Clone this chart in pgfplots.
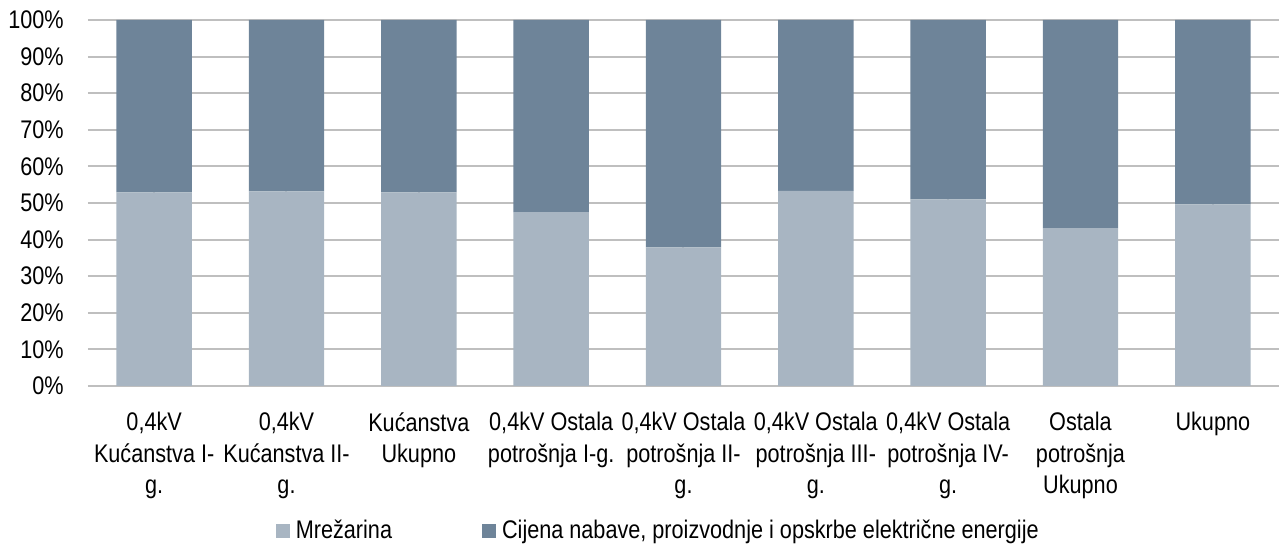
\documentclass[border=0pt]{standalone}
\usepackage{pgfplots}
\pgfplotsset{compat=1.18}
\usepackage{fontspec}
\setmainfont{Liberation Sans}[FakeStretch=0.85]
\definecolor{light}{RGB}{168,181,194}
\definecolor{dark}{RGB}{110,132,153}
\definecolor{grid}{RGB}{134,134,134}
\newcommand{\chartfont}{\fontsize{19.1pt}{23.6pt}\selectfont}
\begin{document}
\chartfont
\begin{tikzpicture}
\path[use as bounding box] (-66pt,-119.25pt) rectangle (893.25pt,289.5pt);
\begin{axis}[
  scale only axis,
  width=893.25pt, height=274.5pt,
  ybar stacked,
  bar width=0.57,
  xmin=-0.5, xmax=8.5,
  ymin=0, ymax=100,
  ytick={0,10,...,100},
  yticklabels={0\%,10\%,20\%,30\%,40\%,50\%,60\%,70\%,80\%,90\%,100\%},
  xtick={0,...,8},
  xticklabels={
    {0,4kV\\Kućanstva I-\\g.},
    {0,4kV\\Kućanstva II-\\g.},
    {Kućanstva\\Ukupno},
    {0,4kV Ostala\\potrošnja I-g.},
    {0,4kV Ostala\\potrošnja II-\\g.},
    {0,4kV Ostala\\potrošnja III-\\g.},
    {0,4kV Ostala\\potrošnja IV-\\g.},
    {Ostala\\potrošnja\\Ukupno},
    {Ukupno}},
  major tick length=0pt,
  axis line style={draw=none},
  ymajorgrids,
  grid style={grid, line width=1.5pt},
  every tick label/.append style={font=\chartfont},
  yticklabel style={anchor=east, inner sep=0pt, xshift=-18pt},
  xticklabel style={anchor=north, inner sep=0pt, yshift=-19.5pt, align=center},
  legend columns=2,
  legend style={at={(0.478,-0.396)}, anchor=center, draw=none, fill=none,
    font=\chartfont,
    nodes={inner sep=0pt},
    /tikz/every odd column/.append style={column sep=4.5pt},
    /tikz/every even column/.append style={column sep=67.5pt}},
  legend image code/.code={\fill[#1] (0pt,-5.25pt) rectangle (10.5pt,5.25pt);},
]
\addplot[fill=light, draw=none] coordinates {(0,52.9) (1,53.2) (2,52.9) (3,47.5) (4,37.9) (5,53.3) (6,51.0) (7,43.1) (8,49.6)};
\addplot[fill=dark, draw=none] coordinates {(0,47.1) (1,46.8) (2,47.1) (3,52.5) (4,62.1) (5,46.7) (6,49.0) (7,56.9) (8,50.4)};
\legend{Mrežarina, {Cijena nabave, proizvodnje i opskrbe električne energije}}
\end{axis}
\end{tikzpicture}
\end{document}
